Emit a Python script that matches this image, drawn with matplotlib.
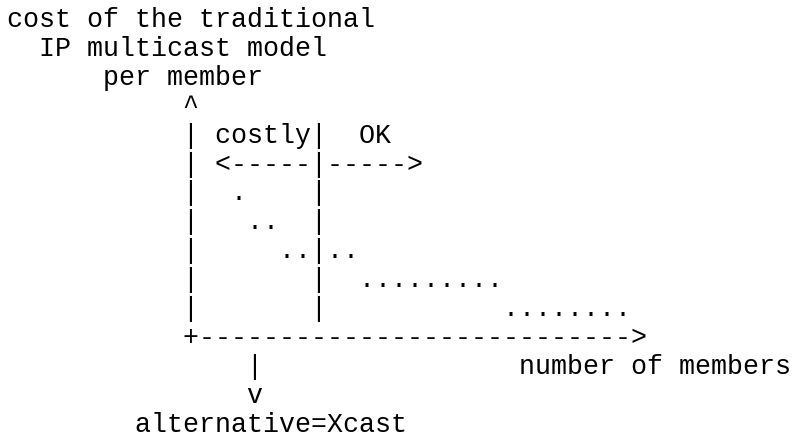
import matplotlib
matplotlib.use("Agg")
from matplotlib import pyplot as plt

# the ascii diagram, one string per text row
diagram_lines = [
    "cost of the traditional",
    "  IP multicast model",
    "      per member",
    "           ^",
    "           | costly|  OK",
    "           | <-----|----->",
    "           |  .    |",
    "           |   ..  |",
    "           |     ..|..",
    "           |       |  .........",
    "           |       |           ........",
    "           +--------------------------->",
    "               |                number of members",
    "               v",
    "        alternative=Xcast",
]

W, H = 806, 443
x0 = 7          # left edge of column 0, px
top = 27        # baseline of first row, px
row_h = 28.9    # px between rows

fig = plt.figure(figsize=(W / 100, H / 100), dpi=100)
ax = fig.add_axes([0, 0, 1, 1])
ax.set_xlim(0, W)
ax.set_ylim(H, 0)
ax.axis("off")

for i, line in enumerate(diagram_lines):
    ax.text(x0, top + i * row_h, line, family="Liberation Mono",
            fontsize=19.2, va="baseline", ha="left", color="black")

fig.savefig("out.png", dpi=100, facecolor="white")
